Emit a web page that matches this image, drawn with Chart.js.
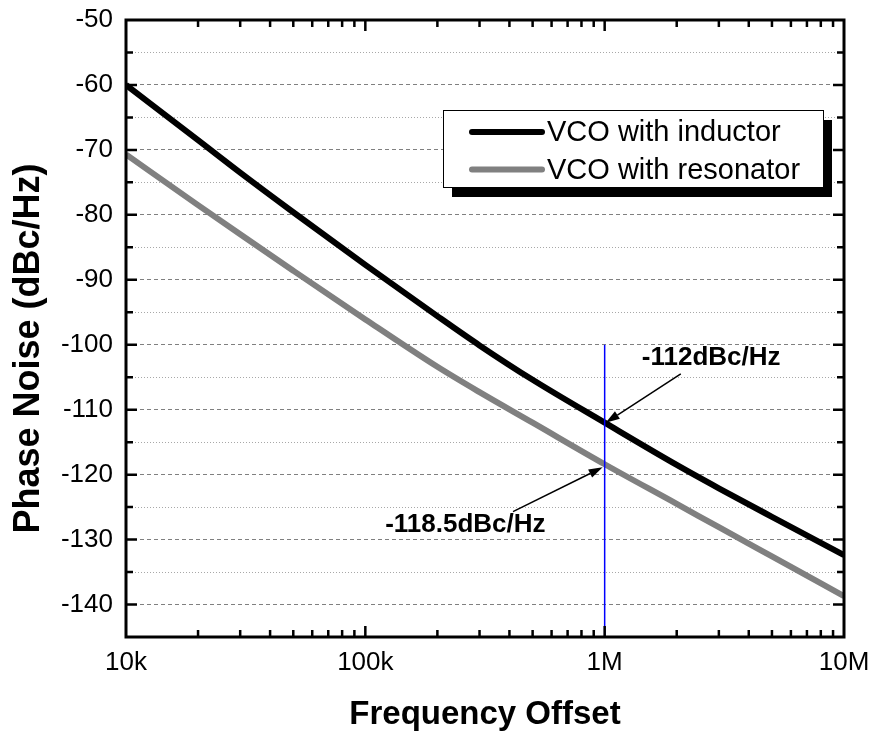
<!DOCTYPE html>
<html>
<head>
<meta charset="utf-8">
<script src="https://cdn.jsdelivr.net/npm/chart.js@4.4.1/dist/chart.umd.min.js"></script>
<style>
  html, body { margin: 0; padding: 0; background: #fff; }
</style>
</head>
<body>
<canvas id="grafica" width="874" height="735"></canvas>
<script>
// Frecuencias de offset (Hz)
const frecuencias = [1e4, 2e4, 3e4, 5e4, 1e5, 2e5, 3e5, 5e5, 1e6, 2e6, 3e6, 5e6, 1e7];
// Ruido de fase (dBc/Hz) de cada VCO
const ruidoInductor = [-60, -68.5, -73.5, -79.6, -87.7, -95.6, -100.1, -105.4, -112.0, -118.5, -122.1, -126.5, -132.4];
const ruidoResonador = [-70.7, -78.5, -83.0, -88.6, -96.1, -103.4, -107.3, -112.0, -118.4, -124.5, -128.1, -132.6, -138.7];
const nombres = ['VCO with inductor', 'VCO with resonator'];

// Ejes
const ticksX = [1e4, 1e5, 1e6, 1e7];
const etiquetasX = ['10k', '100k', '1M', '10M'];
const ticksY = [-140, -130, -120, -110, -100, -90, -80, -70, -60, -50];
const menoresY = [-135, -125, -115, -105, -95, -85, -75, -65, -55];

// Marcador en 1 MHz
const marcadorFrecuencia = 1e6;
const marcadorTope = -100;
const notaInductor = '-112dBc/Hz';
const notaResonador = '-118.5dBc/Hz';

const fuente = "'Liberation Sans', Arial, sans-serif";

function flecha(ctx, x0, y0, x1, y1) {
    const ang = Math.atan2(y1 - y0, x1 - x0);
    const L = 14, W = 4.5;
    const c = Math.cos(ang), s = Math.sin(ang);
    ctx.beginPath();
    ctx.moveTo(x0, y0);
    ctx.lineTo(x1 - L * c, y1 - L * s);
    ctx.stroke();
    ctx.beginPath();
    ctx.moveTo(x1, y1);
    ctx.lineTo(x1 - L * c + W * s, y1 - L * s - W * c);
    ctx.lineTo(x1 - L * c - W * s, y1 - L * s + W * c);
    ctx.closePath();
    ctx.fill();
}

const marcoPlugin = {
    id: 'marco',
    afterDatasetsDraw(chart) {
        const { ctx, chartArea: a, scales: { x, y } } = chart;
        ctx.save();

        // Linea vertical azul en 1M
        const xm = x.getPixelForValue(marcadorFrecuencia);
        ctx.strokeStyle = '#0000ff';
        ctx.lineWidth = 1.5;
        ctx.beginPath();
        ctx.moveTo(xm, y.getPixelForValue(marcadorTope));
        ctx.lineTo(xm, a.bottom);
        ctx.stroke();

        // Marco
        ctx.strokeStyle = '#000';
        ctx.lineWidth = 3;
        ctx.strokeRect(a.left, a.top, a.right - a.left, a.bottom - a.top);

        // Ticks hacia dentro
        ctx.lineWidth = 2.5;
        ctx.beginPath();
        const decadas = [1e4, 1e5, 1e6];
        decadas.forEach(d => {
            for (let k = 1; k <= 10; k++) {
                const v = d * k;
                if (v <= 1e4 || v >= 1e7) continue;
                const px = x.getPixelForValue(v);
                const len = k === 10 ? 11 : 7;
                ctx.moveTo(px, a.bottom); ctx.lineTo(px, a.bottom - len);
                ctx.moveTo(px, a.top); ctx.lineTo(px, a.top + len);
            }
        });
        ticksY.concat(menoresY).forEach(v => {
            if (v <= -145 || v >= -50) return;
            const py = y.getPixelForValue(v);
            const len = v % 10 === 0 ? 11 : 7;
            ctx.moveTo(a.left, py); ctx.lineTo(a.left + len, py);
            ctx.moveTo(a.right, py); ctx.lineTo(a.right - len, py);
        });
        ctx.stroke();

        // Anotaciones
        const yInd = y.getPixelForValue(ruidoInductor[frecuencias.indexOf(marcadorFrecuencia)]);
        const yRes = y.getPixelForValue(ruidoResonador[frecuencias.indexOf(marcadorFrecuencia)]);
        ctx.fillStyle = '#000';
        ctx.strokeStyle = '#000';
        ctx.lineWidth = 1.5;
        flecha(ctx, x.getPixelForValue(2.08e6), y.getPixelForValue(-104.5), xm + 1, yInd);
        flecha(ctx, x.getPixelForValue(4.14e5), y.getPixelForValue(-125.7), xm - 2, yRes + 3);
        ctx.font = 'bold 26px ' + fuente;
        ctx.textAlign = 'left';
        ctx.textBaseline = 'alphabetic';
        ctx.fillText(notaInductor, x.getPixelForValue(1.43e6), y.getPixelForValue(-103.1));
        ctx.fillText(notaResonador, x.getPixelForValue(1.21e5), y.getPixelForValue(-128.9));

        // Leyenda con sombra
        const lx = a.left + 317, ly = a.top + 90, lw = 380, lh = 77;
        ctx.fillStyle = '#000';
        ctx.fillRect(lx + 9, ly + 10, lw, lh);
        ctx.fillStyle = '#fff';
        ctx.fillRect(lx, ly, lw, lh);
        ctx.lineWidth = 1;
        ctx.strokeStyle = '#000';
        ctx.strokeRect(lx + 0.5, ly + 0.5, lw, lh);
        ctx.font = '29px ' + fuente;
        ctx.textBaseline = 'middle';
        ctx.lineCap = 'round';
        chart.data.datasets.forEach((ds, i) => {
            const yy = ly + 22 + i * 37.5;
            ctx.strokeStyle = ds.borderColor;
            ctx.lineWidth = 6;
            ctx.beginPath();
            ctx.moveTo(lx + 29, yy);
            ctx.lineTo(lx + 99, yy);
            ctx.stroke();
            ctx.fillStyle = '#000';
            ctx.fillText(ds.label, lx + 104, yy + 1);
        });
        ctx.restore();
    }
};

new Chart(document.getElementById('grafica'), {
    type: 'line',
    data: {
        datasets: [{
            label: nombres[0],
            data: frecuencias.map((f, i) => ({ x: f, y: ruidoInductor[i] })),
            borderColor: '#000000',
            borderWidth: 6,
            pointRadius: 0,
            cubicInterpolationMode: 'monotone'
        }, {
            label: nombres[1],
            data: frecuencias.map((f, i) => ({ x: f, y: ruidoResonador[i] })),
            borderColor: '#808080',
            borderWidth: 6,
            pointRadius: 0,
            cubicInterpolationMode: 'monotone'
        }]
    },
    options: {
        responsive: false,
        animation: false,
        layout: { padding: { top: 20, right: 30, bottom: 0, left: 0 } },
        plugins: {
            legend: { display: false },
            tooltip: { enabled: false }
        },
        scales: {
            x: {
                type: 'logarithmic',
                min: 1e4,
                max: 1e7,
                afterBuildTicks: s => { s.ticks = ticksX.map(v => ({ value: v })); },
                afterFit: s => {
                    s.height = 98;
                    s.paddingLeft = 0;
                    s.paddingRight = 0;
                },
                grid: { display: false, drawTicks: false },
                border: { display: false },
                ticks: {
                    autoSkip: false,
                    maxRotation: 0,
                    padding: 10,
                    color: '#000',
                    font: { family: fuente, size: 26 },
                    callback: v => etiquetasX[ticksX.indexOf(v)] || ''
                },
                title: {
                    display: true,
                    text: 'Frequency Offset',
                    color: '#000',
                    font: { family: fuente, size: 33, weight: 'bold' },
                    padding: { top: 0, bottom: 0 }
                }
            },
            y: {
                min: -145,
                max: -50,
                afterFit: s => {
                    s.width = 126;
                    s.paddingTop = 0;
                    s.paddingBottom = 0;
                },
                grid: {
                    drawTicks: false,
                    lineWidth: 1,
                    color: c => c.tick && c.tick.value % 10 === 0 ? '#808080' : '#a8a8a8'
                },
                border: {
                    display: false,
                    dash: c => c.tick && c.tick.value % 10 === 0 ? [4, 3] : [1, 2]
                },
                ticks: {
                    stepSize: 5,
                    autoSkip: false,
                    padding: 13,
                    color: '#000',
                    font: { family: fuente, size: 26 },
                    callback: v => ticksY.includes(v) ? String(v) : ''
                },
                title: {
                    display: true,
                    text: 'Phase Noise (dBc/Hz)    ',
                    color: '#000',
                    font: { family: fuente, size: 36, weight: 'bold' },
                    padding: { top: 7, bottom: 0 }
                }
            }
        }
    },
    plugins: [marcoPlugin]
});
</script>
</body>
</html>
